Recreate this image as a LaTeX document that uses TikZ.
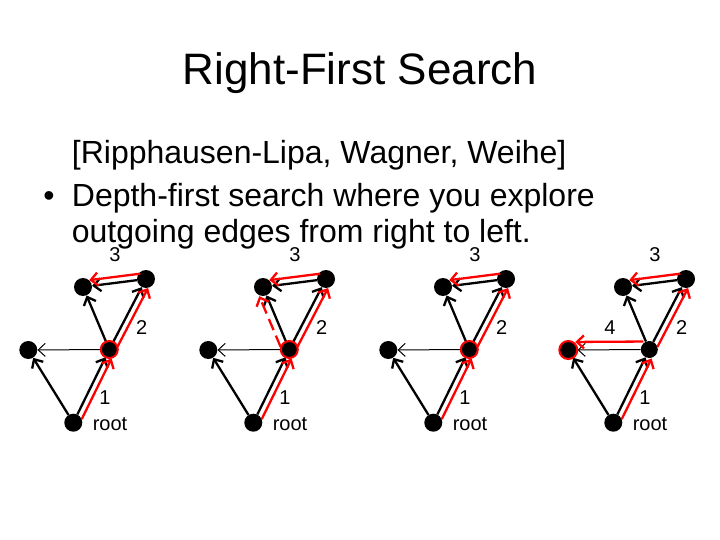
\documentclass[tikz,border=0pt]{standalone}
\usepackage{fontspec}
\setmainfont{Liberation Sans}
\usetikzlibrary{arrows.meta,calc}
\tikzset{
  dot/.style={circle,fill=black,inner sep=0pt,minimum size=18pt},
  ring/.style={draw=red,line width=2pt},
  tip/.style={-{Straight Barb[length=7pt,width=13pt]}},
  edge/.style={tip,line width=2.3pt,black},
  thinedge/.style={tip,line width=1pt,black},
  redarr/.style={tip,line width=2.3pt,red},
  lab/.style={font=\fontsize{20}{24}\selectfont,inner sep=0pt},
  body/.style={font=\fontsize{32}{38}\selectfont,inner sep=0pt,anchor=base west}
}
\begin{document}
\begin{tikzpicture}[x=1pt,y=-1pt]
\useasboundingbox (0,0) rectangle (720,540);
\node[font=\fontsize{44}{52}\selectfont,inner sep=0pt,anchor=base] (title) at (360,85) {Right-First Search};
\node[body] (t1) at (71.7,164) {[Ripphausen-Lipa, Wagner, Weihe]};
\node[font=\fontsize{32}{38}\selectfont,inner sep=0pt,anchor=base] (bul) at (49,207) {•};
\node[body] (t2) at (71.7,207) {Depth-first search where you explore};
\node[body] (t3) at (71.7,242.5) {outgoing edges from right to left.};
\foreach \g in {1,2,3,4}{
  \begin{scope}[xshift={(\g-1)*180pt}]
    \node[dot] (r\g) at (73.3,422.7) {};
    \node[dot,minimum size=17pt] (m\g) at (109.3,349.5) {};
    \node[dot] (l\g) at (28.3,350) {};
    \node[dot] (a\g) at (83,287) {};
    \node[dot] (b\g) at (146,279) {};
    \node[lab] (n3\g) at (115,255) {3};
    \node[lab] (n2\g) at (141.7,328) {2};
    \node[lab] (n1\g) at (105,398) {1};
    \node[lab] (nr\g) at (110,424) {root};
  \end{scope}
  \draw[edge] (r\g) -- (l\g);
  \draw[edge] (r\g) -- (m\g);
  \draw[thinedge] (m\g) -- (l\g);
  \draw[edge] (m\g) -- (a\g);
  \draw[edge] (m\g) -- (b\g);
  \draw[edge] (b\g) -- (a\g);
  \draw[redarr,shorten <=7pt,shorten >=7pt] ($(r\g)!6pt!-90:(m\g)$) -- ($(m\g)!6pt!90:(r\g)$);
  \draw[redarr,shorten <=6pt,shorten >=7pt] ($(m\g)!6pt!-90:(b\g)$) -- ($(b\g)!6pt!90:(m\g)$);
  \draw[redarr,shorten <=5pt,shorten >=7pt] ($(b\g)!6pt!-90:(a\g)$) -- ($(a\g)!6pt!90:(b\g)$);
}
\foreach \g in {1,2,3}{
  \node[dot,ring,minimum size=17pt] at (m\g) {};
}
\draw[redarr,dashed,dash pattern=on 12pt off 6pt,shorten <=6pt,shorten >=7pt] ($(m2)!7pt!90:(a2)$) -- ($(a2)!7pt!-90:(m2)$);
\node[dot,ring] at (l4) {};
\draw[redarr,shorten <=6pt,shorten >=7pt] ($(m4)!8pt!-90:(l4)$) -- ($(l4)!8pt!90:(m4)$);
\node[lab] (n4) at (610,328) {4};
\end{tikzpicture}
\end{document}
